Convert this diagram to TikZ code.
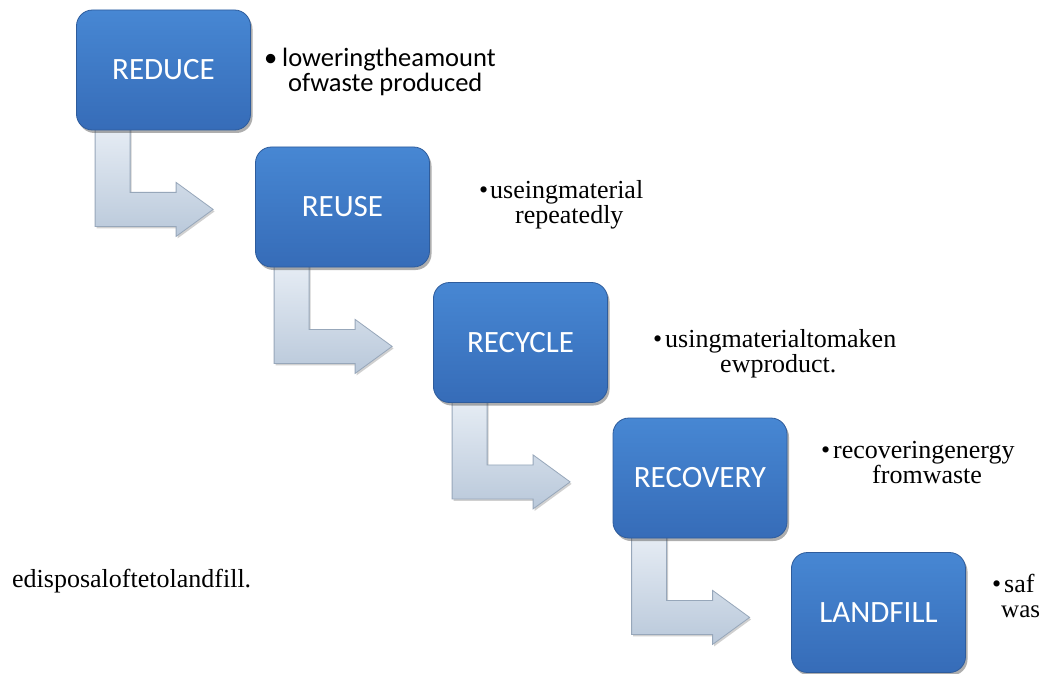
\documentclass[tikz,border=0pt]{standalone}
\usepackage{fontspec}
\setmainfont{Liberation Serif}
\newfontfamily\calfont{Carlito}
\usetikzlibrary{calc,shadows}
\pgfdeclarelayer{bg}
\pgfsetlayers{bg,main}
\definecolor{boxtop}{HTML}{4787D3}
\definecolor{boxbot}{HTML}{366CB8}
\definecolor{boxline}{HTML}{2E5C9C}
\definecolor{arrtop}{HTML}{E9EFF6}
\definecolor{arrbot}{HTML}{B9C8DA}
\definecolor{arrline}{HTML}{97A7BA}
\tikzset{
  stepbox/.style={draw=boxline, line width=0.8pt, rounded corners=16pt,
    top color=boxtop, bottom color=boxbot,
    minimum width=174pt, minimum height=120pt, inner sep=0pt,
    text=white, font=\calfont\fontsize{31}{31}\selectfont,
    drop shadow={shadow xshift=2pt, shadow yshift=-3pt, opacity=0.45, fill=black!70}},
  arrowsty/.style={draw=arrline, line width=0.8pt, top color=arrtop, bottom color=arrbot,
    drop shadow={shadow xshift=1.5pt, shadow yshift=-2pt, opacity=0.3, fill=black!60}},
  sertext/.style={inner sep=0pt, anchor=base west, font=\fontsize{26}{25}\selectfont},
  caltext/.style={inner sep=0pt, anchor=base west, font=\calfont\fontsize{26.5}{25}\selectfont},
}
\newcommand\bentarr[1]{%
  \path[arrowsty] ($(#1.south west)+(19,-10)$) -- ($(#1.south west)+(54,-10)$)
    -- ($(#1.south west)+(54,62)$) -- ($(#1.south west)+(100,62)$)
    -- ($(#1.south west)+(100,52)$) -- ($(#1.south west)+(137,79)$)
    -- ($(#1.south west)+(100,106)$) -- ($(#1.south west)+(100,96)$)
    -- ($(#1.south west)+(19,96)$) -- cycle;}
\begin{document}
\begin{tikzpicture}[x=1pt,y=-1pt]
\useasboundingbox (0,0) rectangle (1042,674);

\node[stepbox] (b1) at (163.5,70) {REDUCE};
\node[stepbox] (b2) at (342.5,207) {REUSE};
\node[stepbox] (b3) at (520.5,342.5) {RECYCLE};
\node[stepbox] (b4) at (700,478) {RECOVERY};
\node[stepbox] (b5) at (878.5,612.5) {LANDFILL};

\begin{pgfonlayer}{bg}
\fill[white] (0,0) rectangle (1042,674);
\bentarr{b1}
\bentarr{b2}
\bentarr{b3}
\bentarr{b4}
\end{pgfonlayer}

\node[caltext] (t1a) at (282,67) {\llap{•\hspace{5pt}}loweringtheamount};
\node[caltext] (t1b) at (288,92) {ofwaste produced};

\node[sertext] (t2a) at (490,198) {\llap{•\hspace{2pt}}useingmaterial};
\node[sertext] (t2b) at (515,223) {repeatedly};

\node[sertext] (t3a) at (665,347) {\llap{•\hspace{3pt}}usingmaterialtomaken};
\node[sertext] (t3b) at (720,372) {ewproduct.};

\node[sertext] (t4a) at (833,458) {\llap{•\hspace{3pt}}recoveringenergy};
\node[sertext] (t4b) at (872,483) {fromwaste};

\node[sertext] (t5) at (12,587) {edisposaloftetolandfill.};

\node[sertext] (t6a) at (1004,592) {\llap{•\hspace{3pt}}saf};
\node[sertext] (t6b) at (1001,617) {\fontsize{25}{25}\selectfont was};
\end{tikzpicture}
\end{document}
